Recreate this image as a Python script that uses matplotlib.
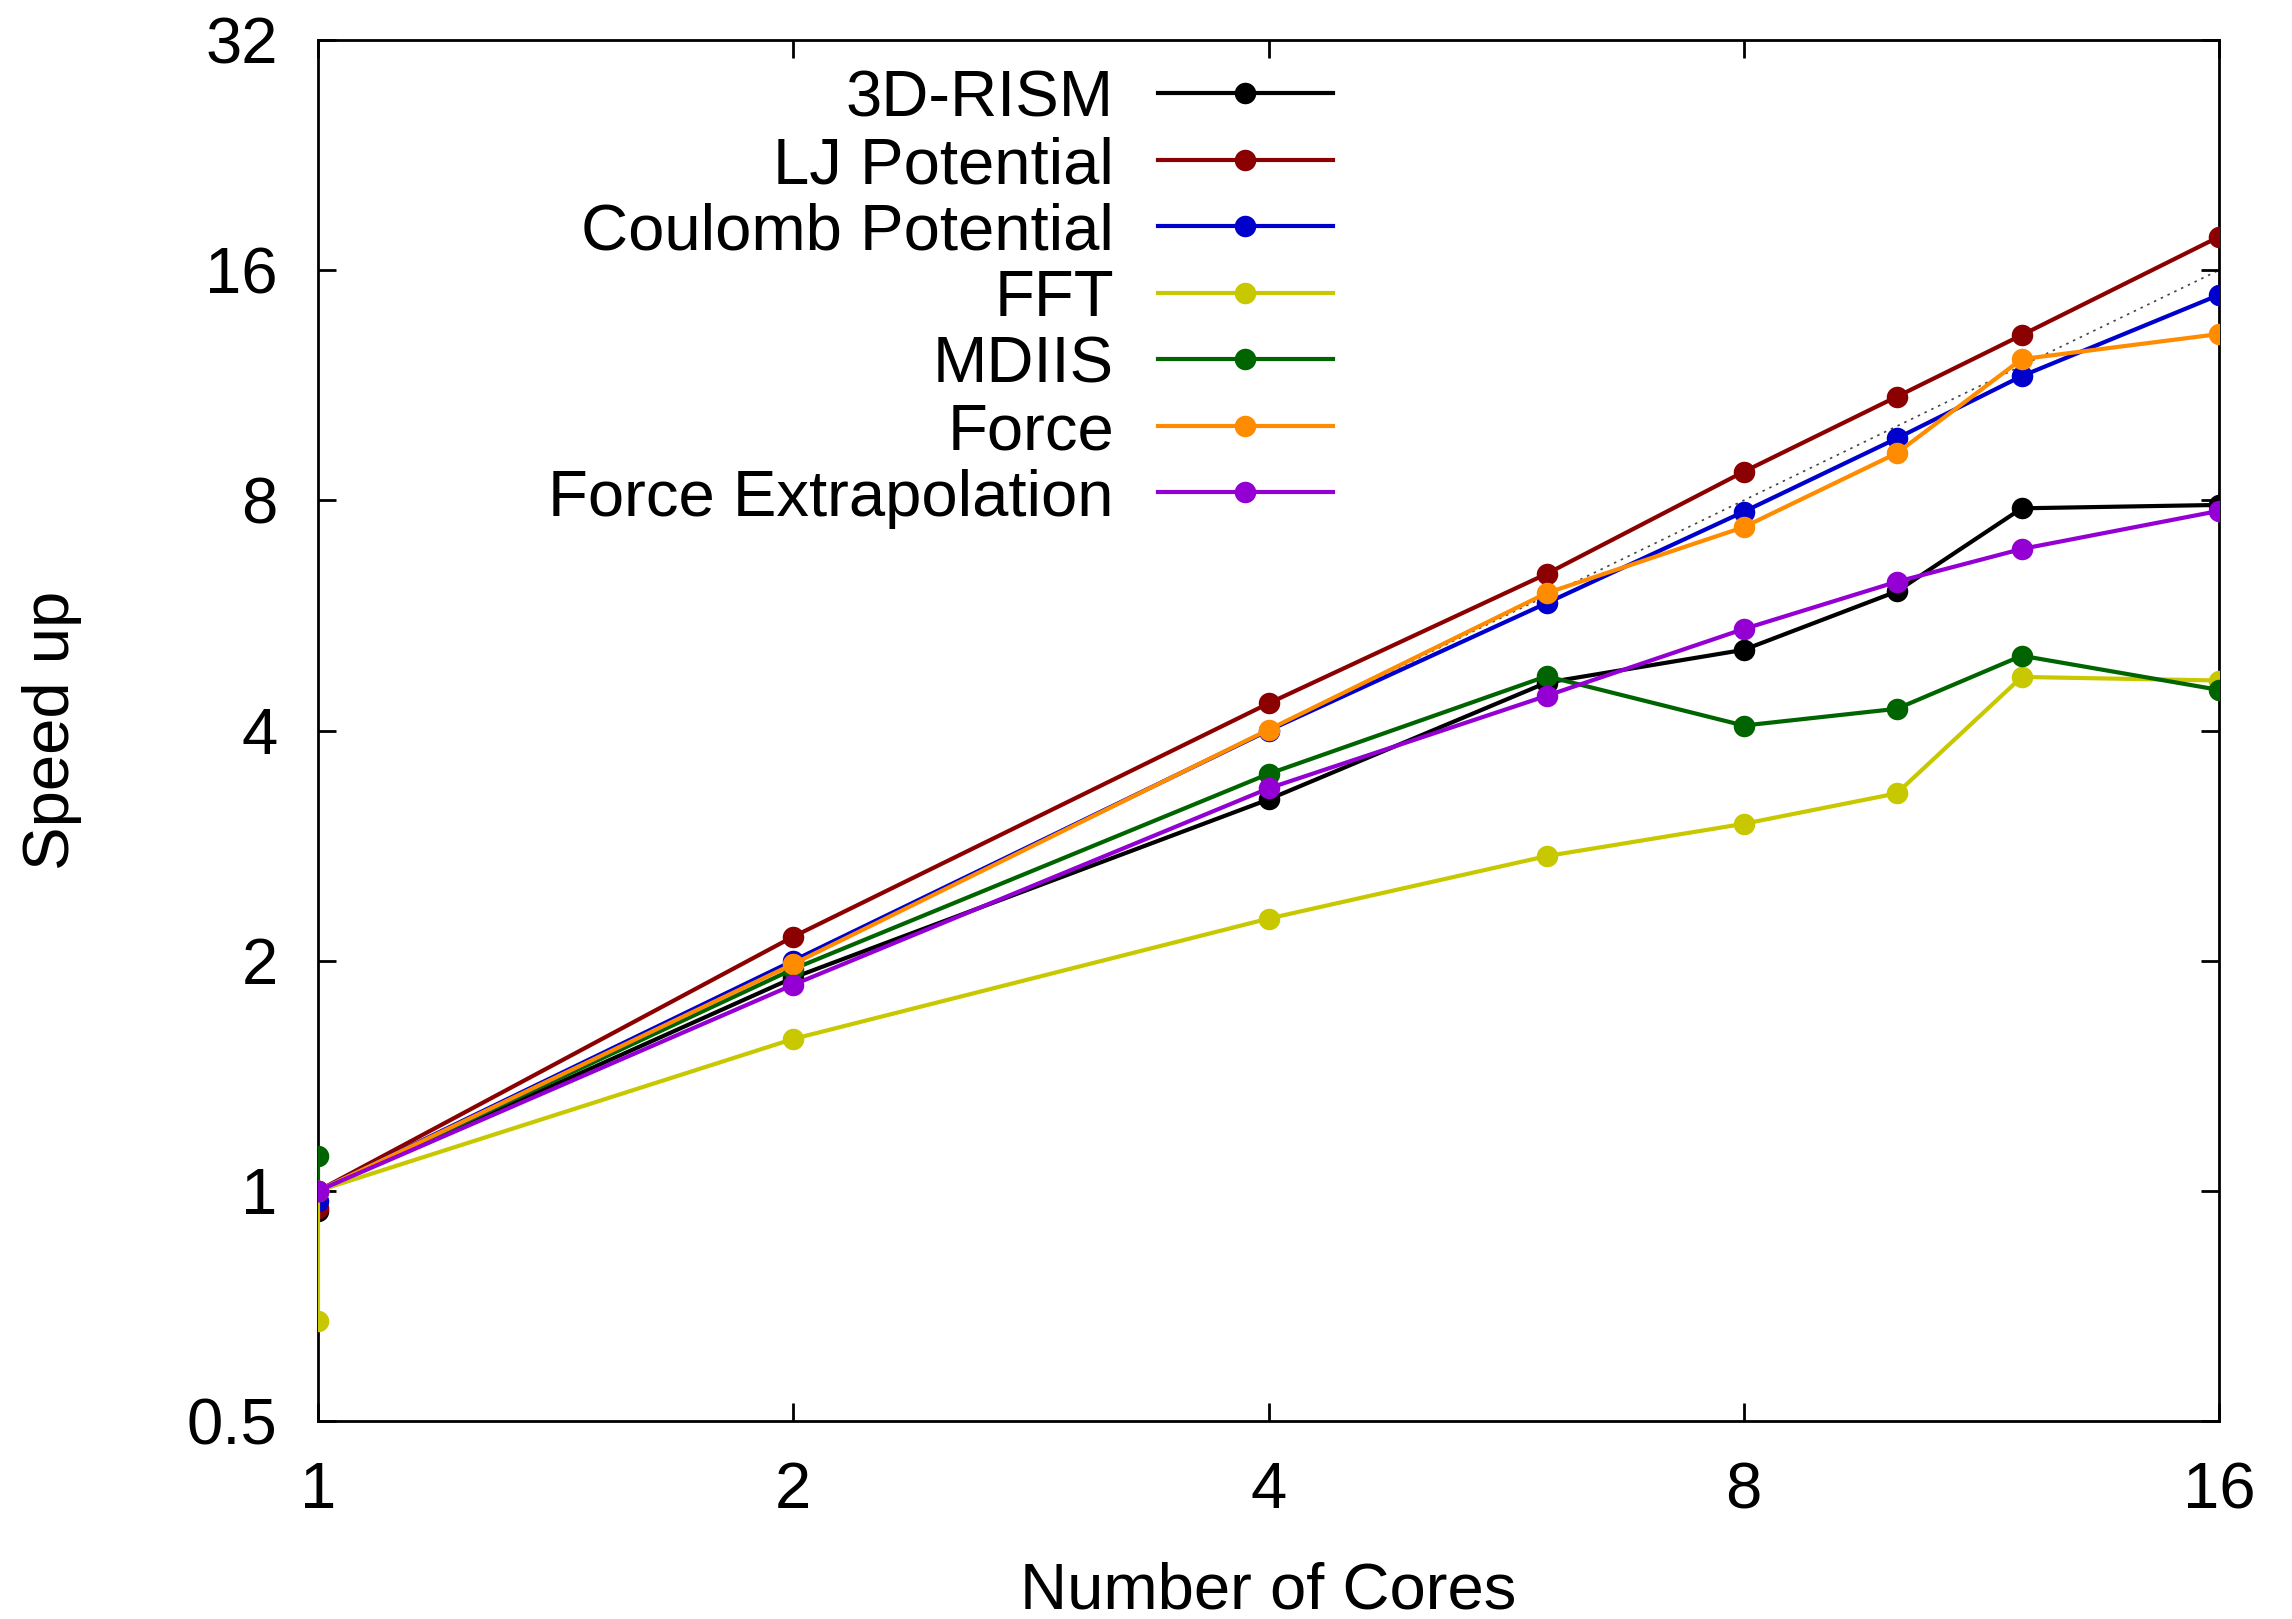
import matplotlib
matplotlib.use('Agg')
import matplotlib.pyplot as plt

plt.rcParams['font.family'] = ['Liberation Sans', 'DejaVu Sans']

# number of cores (x=1 appears twice: serial run, then 1-core parallel run)
cores = [1, 1, 2, 4, 6, 8, 10, 12, 16]

rism = [0.94, 1.0, 1.90, 3.25, 4.62, 5.10, 6.08, 7.81, 7.89]
lj_potential = [0.95, 1.0, 2.15, 4.34, 6.41, 8.72, 10.93, 13.16, 17.69]
coulomb_potential = [0.97, 1.0, 2.0, 4.0, 5.87, 7.73, 9.64, 11.63, 14.85]
fft = [0.675, 1.0, 1.58, 2.27, 2.74, 3.02, 3.31, 4.70, 4.65]
mdiis = [1.11, 1.0, 1.95, 3.51, 4.71, 4.06, 4.27, 5.01, 4.52]
force = [1.0, 1.0, 1.98, 4.01, 6.05, 7.38, 9.22, 12.24, 13.2]
force_extrap = [1.0, 1.0, 1.86, 3.36, 4.44, 5.43, 6.26, 6.91, 7.75]

labels = ['3D-RISM', 'LJ Potential', 'Coulomb Potential', 'FFT', 'MDIIS',
          'Force', 'Force Extrapolation']
colors = ['#000000', '#8b0000', '#0000cd', '#c8c800', '#006400',
          '#ff8c00', '#9400d3']
series = [rism, lj_potential, coulomb_potential, fft, mdiis, force, force_extrap]

ideal = [1, 16]
x_ticks = [1, 2, 4, 8, 16]
y_ticks = [0.5, 1, 2, 4, 8, 16, 32]
y_ticklabels = ['0.5', '1', '2', '4', '8', '16', '32']

fig = plt.figure(figsize=(22.92, 16.19), dpi=100)
ax = fig.add_axes([318 / 2292, 1 - 1421 / 1619, 1901 / 2292, 1381 / 1619])

# ideal speed-up, behind everything
ax.plot(ideal, ideal, color='#444444', lw=1.2, ls=(0, (1.5, 3)), zorder=1)

for i, (vals, lab, col) in enumerate(zip(series, labels, colors)):
    ax.plot(cores, vals, color=col, lw=3, marker='o', markersize=15.5,
            markeredgewidth=0, zorder=2 + i)

ax.set_xscale('log', base=2)
ax.set_yscale('log', base=2)
ax.set_xlim(1, 16)
ax.set_ylim(0.5, 32)
ax.set_xticks(x_ticks)
ax.set_xticklabels([str(t) for t in x_ticks])
ax.set_yticks(y_ticks)
ax.set_yticklabels(y_ticklabels)
ax.minorticks_off()

ax.tick_params(axis='both', which='major', direction='in', length=13, width=2,
               labelsize=47, pad=29, top=True, right=True)
for sp in ax.spines.values():
    sp.set_linewidth(2)

ax.set_xlabel('Number of Cores', fontsize=47)
ax.set_ylabel('Speed up', fontsize=47)
ax.xaxis.set_label_coords(0.5, -0.102)
ax.yaxis.set_label_coords(-0.124, 0.5)

# gnuplot-style key: right-aligned text, sample line with marker on the right
row_y0 = 0.9613
row_step = 0.04815
for i, (lab, col) in enumerate(zip(labels, colors)):
    y = row_y0 - i * row_step
    ax.text(0.4187, y - 0.017, lab, transform=ax.transAxes, ha='right',
            va='baseline', fontsize=47)
    ax.plot([0.4419, 0.5339], [y, y], color=col, lw=3, transform=ax.transAxes,
            clip_on=False, zorder=10)
    ax.plot([0.4877], [y], color=col, marker='o', markersize=15.5,
            markeredgewidth=0, transform=ax.transAxes, clip_on=False, zorder=11)

fig.savefig('out.png', dpi=100)
